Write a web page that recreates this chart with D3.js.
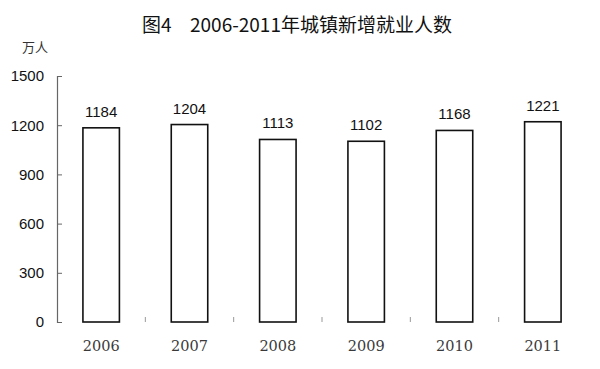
<!DOCTYPE html>
<html>
<head>
<meta charset="utf-8">
<script src="https://cdn.jsdelivr.net/npm/d3@7/dist/d3.min.js"></script>
<style>
  html, body { margin: 0; padding: 0; background: #fff; }
  svg { display: block; }
  .num { font-family: "Liberation Sans", Arial, sans-serif; }
  .yr { font-family: "DejaVu Serif", serif; }
  .cjk { font-family: "Noto Sans CJK SC", sans-serif; }
</style>
</head>
<body>
<svg id="chart" width="600" height="369"></svg>
<script>
const years = ["2006", "2007", "2008", "2009", "2010", "2011"];
const employed = [1184, 1204, 1113, 1102, 1168, 1221];
const yTicks = [0, 300, 600, 900, 1200, 1500];
const titleLead = "图4";
const titleMain = "2006-2011年城镇新增就业人数";
const unitText = "万人";

const svg = d3.select("#chart");
const x = d3.scaleBand().domain(years).range([57, 587]).paddingInner(0.587).paddingOuter(0.2935);
const y = d3.scaleLinear().domain([0, 1500]).range([322, 76]);

const title = svg.append("text")
  .attr("class", "cjk")
  .attr("y", 32)
  .attr("font-size", 19)
  .attr("fill", "#111");
title.append("tspan").attr("x", 142).text(titleLead);
title.append("tspan").attr("x", 190).text(titleMain);

svg.append("text")
  .attr("class", "cjk")
  .attr("x", 35).attr("y", 52)
  .attr("text-anchor", "middle")
  .attr("font-size", 13)
  .attr("fill", "#333")
  .text(unitText);

// y axis
const yAxis = d3.axisRight(y).tickValues(yTicks).tickSize(5).tickFormat(d3.format("d"));
const gy = svg.append("g").attr("transform", "translate(57,0)").call(yAxis);
gy.attr("font-family", null).attr("font-size", null);
gy.select(".domain").attr("stroke", "#666").attr("stroke-width", 1.2);
gy.selectAll(".tick line").attr("stroke", "#666");
gy.selectAll(".tick text")
  .attr("class", "num")
  .attr("x", -13).attr("text-anchor", "end")
  .attr("font-size", 15).attr("fill", "#111");

// x axis: no baseline, only tiny ticks between categories
const step = x.step();
const bounds = years.slice(1).map(d => x(d) - x.paddingInner() * step / 2);
svg.append("g").selectAll("line").data(bounds).join("line")
  .attr("x1", d => d).attr("x2", d => d)
  .attr("y1", 317).attr("y2", 322)
  .attr("stroke", "#999").attr("stroke-width", 1);

svg.append("g").selectAll("text").data(years).join("text")
  .attr("class", "yr")
  .attr("x", d => x(d) + x.bandwidth() / 2)
  .attr("y", 351)
  .attr("text-anchor", "middle")
  .attr("font-size", 14.5)
  .attr("fill", "#3a3a3a")
  .text(d => d);

// bars
svg.append("g").selectAll("rect").data(years).join("rect")
  .attr("x", d => x(d))
  .attr("y", (d, i) => y(employed[i]))
  .attr("width", x.bandwidth())
  .attr("height", (d, i) => y(0) - y(employed[i]))
  .attr("fill", "#fff")
  .attr("stroke", "#111")
  .attr("stroke-width", 1.6);

// value labels
svg.append("g").selectAll("text").data(years).join("text")
  .attr("class", "num")
  .attr("x", d => x(d) + x.bandwidth() / 2)
  .attr("y", (d, i) => y(employed[i]) - 11)
  .attr("text-anchor", "middle")
  .attr("font-size", 15)
  .attr("fill", "#111")
  .text((d, i) => employed[i]);
</script>
</body>
</html>
